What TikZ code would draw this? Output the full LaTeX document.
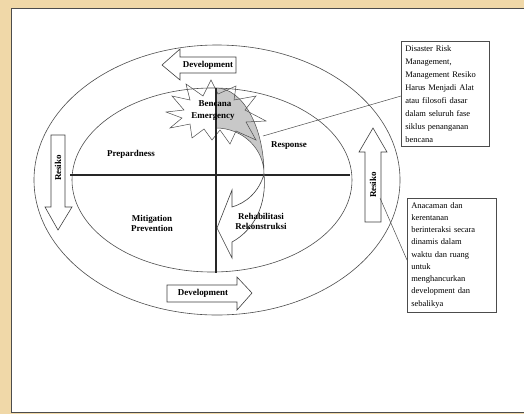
\documentclass[tikz,border=0pt]{standalone}
\usepackage{fontspec}
\setmainfont{Liberation Serif}
\definecolor{bgbeige}{RGB}{240,216,168}
\definecolor{crescentgray}{RGB}{200,200,200}
\begin{document}
\begin{tikzpicture}[x=1bp,y=-1bp,
  lbl/.style={font=\fontsize{9}{10}\selectfont\bfseries, inner sep=0pt},
  boxtxt/.style={draw=black!70, line width=0.6pt, fill=white, align=left,
    inner xsep=4bp, inner ysep=4bp, anchor=north west},
  thinline/.style={draw=black!70, line width=0.5pt},
  ring/.style={draw=black!70, line width=0.6pt},
  blockarrow/.style={draw=black!75, line width=0.6pt, fill=white},
  axisline/.style={line width=1.5pt, draw=black!85}]
\useasboundingbox (0,0) rectangle (524,414);
% page background and frame
\fill[bgbeige] (0,0) rectangle (524,414);
\draw[fill=white, draw=black!70, line width=0.8pt] (11.5,8.5) rectangle (535,412);
% ellipses
\draw[ring] (217,180) ellipse [x radius=183, y radius=135];
\draw[ring] (212,180) ellipse [x radius=140, y radius=92];
% block arrows
\draw[blockarrow] (162,65) -- (180,49) -- (180,57) -- (236,57) -- (236,73) -- (180,73) -- (180,80) -- cycle;
\node[lbl] (devtop) at (208,65) {Development};
\draw[blockarrow] (252,293) -- (237,277) -- (237,285) -- (167,285) -- (167,302) -- (237,302) -- (237,310) -- cycle;
\node[lbl] (devbot) at (203,293.5) {Development};
\draw[blockarrow] (58,230) -- (45,207) -- (51,207) -- (51,135) -- (65,135) -- (65,207) -- (72,207) -- cycle;
\node[lbl, rotate=90] (resL) at (58,168) {Resiko};
\draw[blockarrow] (373,128) -- (387,152) -- (381,152) -- (381,222) -- (365,222) -- (365,152) -- (359,152) -- cycle;
\node[lbl, rotate=90] (resR) at (373,185) {Resiko};
% gray crescent
\fill[crescentgray, draw=black!70, line width=0.5pt] (216,88) arc[start angle=-90, end angle=0, x radius=48, y radius=86]
  arc[start angle=0, end angle=-90, x radius=48, y radius=46] -- cycle;
% starburst
\draw[thinline]
  (166,112) -- (184,110) -- (172,96) -- (190,100) -- (186,84) -- (203,96) -- (211,80) -- (218,94)
  -- (236,86) -- (234,100) -- (256,96) -- (245,110) -- (266,121) -- (246,122) -- (256,140)
  -- (236,131) -- (230,144) -- (220,130) -- (212,140) -- (204,129) -- (192,138) -- (190,124)
  -- (170,128) -- (182,118) -- cycle;
% axes
\draw[axisline] (70,175) -- (350,175);
\draw[axisline] (216,88) -- (216,273);
% curved arrow
\draw[blockarrow] (264,174) .. controls (259,192) and (246,203) .. (232,207) -- (232,190) -- (217,228)
  -- (232,258) -- (232,242) .. controls (254,230) and (267,205) .. (264,174);
% labels
\node[lbl] (benc) at (215,104) {Bencana};
\node[lbl] (emer) at (213,117) {Emergency};
\node[lbl] (prep) at (131,154) {Prepardness};
\node[lbl] (resp) at (289,146) {Response};
\node[lbl, align=center] (miti) at (152,223) {Mitigation\\Prevention};
\node[lbl, align=center] (reha) at (261,221) {Rehabilitasi\\Rekonstruksi};
% text boxes
\node[boxtxt, text width=80bp, font=\fontsize{8.5}{13.1}\selectfont] (b1) at (401,41)
  {Disaster Risk\\Management,\\Management Resiko\\Harus Menjadi Alat\\atau filosofi dasar\\dalam seluruh fase\\siklus penanganan\\bencana};
\node[boxtxt, text width=81bp, font=\fontsize{8.5}{12.3}\selectfont] (b2) at (407,198)
  {Anacaman dan\\kerentanan\\berinteraksi secara\\dinamis dalam\\waktu dan ruang\\untuk\\menghancurkan\\development dan\\sebalikya};
% pointer lines
\coordinate (p1) at (263,136);
\coordinate (p2) at (380,198);
\draw[thinline] (b1.west |- 0,96) -- (p1);
\draw[thinline] (b2.west |- 0,260) -- (p2);
\end{tikzpicture}
\end{document}
